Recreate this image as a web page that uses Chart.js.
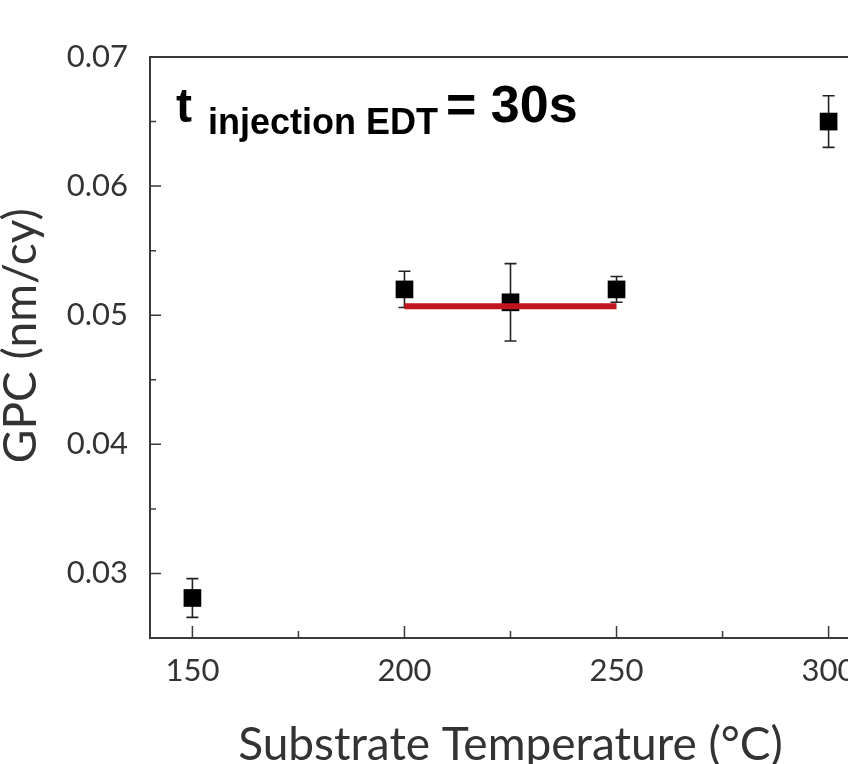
<!DOCTYPE html>
<html>
<head>
<meta charset="utf-8">
<script src="https://cdn.jsdelivr.net/npm/chart.js@4"></script>
<style>
html, body { margin: 0; padding: 0; overflow: hidden; background: #fff; }
</style>
</head>
<body>
<canvas id="gpcChart" width="900" height="764"></canvas>
<script>
// substrate temperature (°C) and growth per cycle (nm/cy)
const temps = [150, 200, 225, 250, 300];
const gpc = [0.0281, 0.0520, 0.0510, 0.0520, 0.0650];
const gpcErr = [0.0015, 0.0014, 0.0030, 0.0010, 0.0020];
// plateau fit line
const plateauX = [200, 250];
const plateauY = [0.0507, 0.0507];
// tick positions (major ones get a label)
const xTicks = [150, 175, 200, 225, 250, 275, 300];
const yTicks = [0.03, 0.035, 0.04, 0.045, 0.05, 0.055, 0.06, 0.065, 0.07];

const axisColor = '#3a3a3a';
const font = 'Lato, "Open Sans", sans-serif';

const isMajorY = v => Math.abs(v * 100 - Math.round(v * 100)) < 1e-6;

const errorBars = {
    id: 'errorBars',
    beforeDatasetsDraw(chart) {
        const ctx = chart.ctx, x = chart.scales.x, y = chart.scales.y;
        ctx.save();
        ctx.strokeStyle = '#222';
        ctx.lineWidth = 1.6;
        temps.forEach((t, i) => {
            const px = x.getPixelForValue(t);
            const top = y.getPixelForValue(gpc[i] + gpcErr[i]);
            const bot = y.getPixelForValue(gpc[i] - gpcErr[i]);
            ctx.beginPath();
            ctx.moveTo(px, top); ctx.lineTo(px, bot);
            ctx.moveTo(px - 6, top); ctx.lineTo(px + 6, top);
            ctx.moveTo(px - 6, bot); ctx.lineTo(px + 6, bot);
            ctx.stroke();
        });
        ctx.restore();
    }
};

const frame = {
    id: 'frame',
    afterDraw(chart) {
        const ctx = chart.ctx, a = chart.chartArea;
        const x = chart.scales.x, y = chart.scales.y;
        ctx.save();
        ctx.strokeStyle = axisColor;
        ctx.lineWidth = 2;
        ctx.beginPath();
        ctx.moveTo(a.left, a.top); ctx.lineTo(a.right, a.top);
        ctx.stroke();
        ctx.lineWidth = 1.5;
        ctx.beginPath();
        x.ticks.forEach(t => {
            const px = x.getPixelForValue(t.value);
            const len = t.value % 50 === 0 ? 12 : 7;
            ctx.moveTo(px, a.bottom); ctx.lineTo(px, a.bottom - len);
        });
        y.ticks.forEach(t => {
            const py = y.getPixelForValue(t.value);
            const len = isMajorY(t.value) ? 11 : 6;
            ctx.moveTo(a.left, py); ctx.lineTo(a.left + len, py);
        });
        ctx.stroke();
        // annotation
        ctx.fillStyle = '#000';
        ctx.textBaseline = 'alphabetic';
        ctx.font = 'bold 48px "Liberation Sans", Arial, sans-serif';
        ctx.fillText('t', 176, 122);
        ctx.font = 'bold 36px "Liberation Sans", Arial, sans-serif';
        ctx.fillText('injection EDT', 208, 134);
        ctx.font = 'bold 52px "Liberation Sans", Arial, sans-serif';
        ctx.fillText('= 30s', 446, 122);
        ctx.restore();
    }
};

new Chart(document.getElementById('gpcChart'), {
    type: 'scatter',
    data: {
        datasets: [{
            type: 'line',
            label: 'plateau',
            data: plateauX.map((v, i) => ({x: v, y: plateauY[i]})),
            borderColor: '#c0141e',
            borderWidth: 6,
            pointRadius: 0,
            fill: false
        }, {
            label: 'GPC',
            data: temps.map((t, i) => ({x: t, y: gpc[i]})),
            pointStyle: 'rect',
            pointRadius: 12.5,
            pointBackgroundColor: '#000',
            pointBorderWidth: 0,
            backgroundColor: '#000'
        }]
    },
    options: {
        responsive: false,
        animation: false,
        layout: {padding: {top: 57, right: 29, left: 0, bottom: 0}},
        plugins: {legend: {display: false}, tooltip: {enabled: false}},
        scales: {
            x: {
                type: 'linear',
                min: 140, max: 310,
                grid: {display: false},
                border: {color: axisColor, width: 2},
                afterBuildTicks: s => { s.ticks = xTicks.map(v => ({value: v})); },
                afterFit: s => { s.height = 126; },
                ticks: {
                    autoSkip: false, maxRotation: 0, padding: 6,
                    color: '#333', font: {family: font, size: 31},
                    callback: v => v % 50 === 0 ? v : ''
                },
                title: {
                    display: true, text: 'Substrate Temperature (°C)',
                    color: '#333', font: {family: font, size: 46},
                    padding: {top: 0, bottom: -9}
                }
            },
            y: {
                min: 0.025, max: 0.07,
                grid: {display: false},
                border: {color: axisColor, width: 2},
                afterBuildTicks: s => { s.ticks = yTicks.map(v => ({value: v})); },
                afterFit: s => { s.width = 150; },
                ticks: {
                    autoSkip: false, padding: 14,
                    color: '#333', font: {family: font, size: 31},
                    callback: v => isMajorY(v) ? v.toFixed(2) : ''
                },
                title: {
                    display: true, text: '  GPC (nm/cy)',
                    color: '#333', font: {family: font, size: 46},
                    padding: {top: -6, bottom: 0}
                }
            }
        }
    },
    plugins: [errorBars, frame]
});
</script>
</body>
</html>
